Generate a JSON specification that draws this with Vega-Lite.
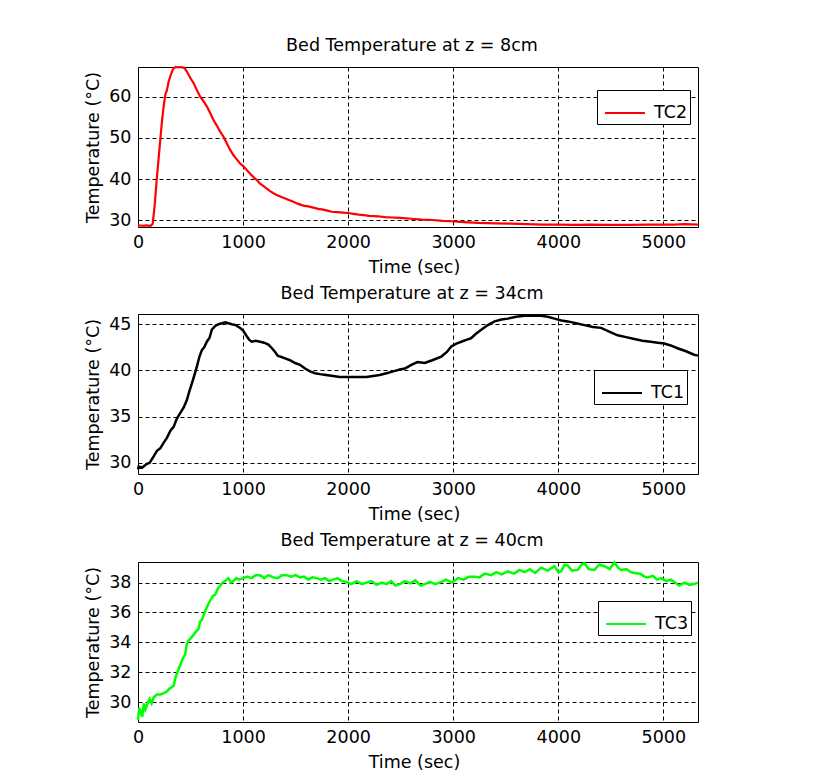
{
  "$schema": "https://vega.github.io/schema/vega-lite/v6.json",
  "padding": {"left": 84, "top": 36, "right": 5, "bottom": 5},
  "background": "white",
  "config": {
    "font": "DejaVu Sans",
    "view": {"stroke": "black", "strokeWidth": 1},
    "axis": {
      "domain": false, "ticks": false, "grid": true,
      "gridColor": "black", "gridDash": [4, 3], "gridOpacity": 1, "gridWidth": 1,
      "labelFont": "DejaVu Sans", "labelFontSize": 17.5, "labelColor": "black",
      "titleFont": "DejaVu Sans", "titleFontSize": 17.5, "titleFontWeight": "normal", "titleColor": "black",
      "labelPadding": 7, "labelFlush": false
    },
    "axisX": {"titlePadding": 8, "titleX": 276, "labelPadding": 6},
    "axisY": {"titlePadding": 6},
    "title": {"font": "DejaVu Sans", "fontSize": 17.5, "fontWeight": "normal", "color": "black", "offset": 8, "frame": "group", "dx": -6},
    "legend": {
      "labelFont": "DejaVu Sans", "labelFontSize": 17.5, "labelColor": "black",
      "symbolType": "stroke", "symbolSize": 1600, "symbolStrokeWidth": 2,
      "strokeColor": "black", "fillColor": "white", "padding": 2, "symbolOffset": 5, "labelOffset": 8, "title": null
    }
  },
  "datasets": {
    "tc2": [
      {"t":0,"v":28.8,"sensor":"TC2"},{"t":40,"v":28.7,"sensor":"TC2"},{"t":80,"v":28.8,"sensor":"TC2"},{"t":120,"v":28.7,"sensor":"TC2"},
      {"t":140,"v":29.2,"sensor":"TC2"},{"t":160,"v":34,"sensor":"TC2"},{"t":180,"v":40.5,"sensor":"TC2"},{"t":196,"v":45,"sensor":"TC2"},
      {"t":212,"v":49.5,"sensor":"TC2"},{"t":228,"v":54,"sensor":"TC2"},{"t":244,"v":57.6,"sensor":"TC2"},{"t":260,"v":60.5,"sensor":"TC2"},
      {"t":275,"v":61.6,"sensor":"TC2"},{"t":290,"v":63.5,"sensor":"TC2"},{"t":307,"v":64.9,"sensor":"TC2"},{"t":325,"v":66.2,"sensor":"TC2"},
      {"t":339,"v":66.9,"sensor":"TC2"},{"t":360,"v":67.2,"sensor":"TC2"},{"t":380,"v":67.1,"sensor":"TC2"},{"t":400,"v":67.2,"sensor":"TC2"},
      {"t":420,"v":67.1,"sensor":"TC2"},{"t":440,"v":67.0,"sensor":"TC2"},{"t":465,"v":66.1,"sensor":"TC2"},{"t":497,"v":64.6,"sensor":"TC2"},
      {"t":529,"v":63.3,"sensor":"TC2"},{"t":560,"v":61.6,"sensor":"TC2"},{"t":592,"v":60.0,"sensor":"TC2"},{"t":624,"v":58.9,"sensor":"TC2"},
      {"t":656,"v":57.6,"sensor":"TC2"},{"t":688,"v":56.0,"sensor":"TC2"},{"t":719,"v":54.3,"sensor":"TC2"},{"t":750,"v":53.0,"sensor":"TC2"},
      {"t":782,"v":51.5,"sensor":"TC2"},{"t":814,"v":50.3,"sensor":"TC2"},{"t":845,"v":48.7,"sensor":"TC2"},{"t":877,"v":47.1,"sensor":"TC2"},
      {"t":909,"v":45.8,"sensor":"TC2"},{"t":940,"v":44.8,"sensor":"TC2"},{"t":972,"v":43.8,"sensor":"TC2"},{"t":1004,"v":43.1,"sensor":"TC2"},
      {"t":1035,"v":42.2,"sensor":"TC2"},{"t":1067,"v":41.3,"sensor":"TC2"},{"t":1099,"v":40.5,"sensor":"TC2"},{"t":1130,"v":39.8,"sensor":"TC2"},
      {"t":1162,"v":38.9,"sensor":"TC2"},{"t":1195,"v":38.3,"sensor":"TC2"},{"t":1225,"v":37.7,"sensor":"TC2"},{"t":1257,"v":37.1,"sensor":"TC2"},
      {"t":1289,"v":36.6,"sensor":"TC2"},{"t":1336,"v":36.0,"sensor":"TC2"},{"t":1384,"v":35.5,"sensor":"TC2"},{"t":1430,"v":35.0,"sensor":"TC2"},
      {"t":1479,"v":34.5,"sensor":"TC2"},{"t":1525,"v":34.0,"sensor":"TC2"},{"t":1574,"v":33.6,"sensor":"TC2"},{"t":1620,"v":33.4,"sensor":"TC2"},
      {"t":1669,"v":33.1,"sensor":"TC2"},{"t":1715,"v":32.8,"sensor":"TC2"},{"t":1764,"v":32.6,"sensor":"TC2"},{"t":1811,"v":32.3,"sensor":"TC2"},
      {"t":1843,"v":32.1,"sensor":"TC2"},{"t":1900,"v":32.0,"sensor":"TC2"},{"t":1950,"v":31.9,"sensor":"TC2"},{"t":2001,"v":31.8,"sensor":"TC2"},
      {"t":2050,"v":31.6,"sensor":"TC2"},{"t":2100,"v":31.4,"sensor":"TC2"},{"t":2150,"v":31.3,"sensor":"TC2"},{"t":2200,"v":31.1,"sensor":"TC2"},
      {"t":2286,"v":31.0,"sensor":"TC2"},{"t":2350,"v":30.8,"sensor":"TC2"},{"t":2420,"v":30.7,"sensor":"TC2"},{"t":2500,"v":30.6,"sensor":"TC2"},
      {"t":2603,"v":30.4,"sensor":"TC2"},{"t":2700,"v":30.2,"sensor":"TC2"},{"t":2800,"v":30.1,"sensor":"TC2"},{"t":2900,"v":29.9,"sensor":"TC2"},
      {"t":2982,"v":29.8,"sensor":"TC2"},{"t":3100,"v":29.6,"sensor":"TC2"},{"t":3236,"v":29.4,"sensor":"TC2"},{"t":3400,"v":29.3,"sensor":"TC2"},
      {"t":3552,"v":29.2,"sensor":"TC2"},{"t":3700,"v":29.1,"sensor":"TC2"},{"t":3850,"v":29.0,"sensor":"TC2"},{"t":3995,"v":29.0,"sensor":"TC2"},
      {"t":4150,"v":28.9,"sensor":"TC2"},{"t":4300,"v":29.0,"sensor":"TC2"},{"t":4500,"v":28.9,"sensor":"TC2"},{"t":4700,"v":28.9,"sensor":"TC2"},
      {"t":4850,"v":29.0,"sensor":"TC2"},{"t":4974,"v":29.0,"sensor":"TC2"},{"t":5100,"v":29.0,"sensor":"TC2"},{"t":5200,"v":29.1,"sensor":"TC2"},
      {"t":5329,"v":29.0,"sensor":"TC2"}
    ],
    "tc1": [
      {"t":0,"v":29.3,"sensor":"TC1"},{"t":7,"v":29.6,"sensor":"TC1"},{"t":40,"v":29.5,"sensor":"TC1"},{"t":85,"v":29.9,"sensor":"TC1"},
      {"t":110,"v":30.0,"sensor":"TC1"},{"t":149,"v":30.7,"sensor":"TC1"},{"t":180,"v":31.3,"sensor":"TC1"},{"t":213,"v":31.6,"sensor":"TC1"},
      {"t":245,"v":32.2,"sensor":"TC1"},{"t":275,"v":32.7,"sensor":"TC1"},{"t":310,"v":33.5,"sensor":"TC1"},{"t":339,"v":33.9,"sensor":"TC1"},
      {"t":370,"v":34.8,"sensor":"TC1"},{"t":403,"v":35.4,"sensor":"TC1"},{"t":435,"v":36.0,"sensor":"TC1"},{"t":465,"v":36.8,"sensor":"TC1"},
      {"t":490,"v":37.8,"sensor":"TC1"},{"t":513,"v":38.6,"sensor":"TC1"},{"t":537,"v":39.5,"sensor":"TC1"},{"t":560,"v":40.4,"sensor":"TC1"},
      {"t":585,"v":41.5,"sensor":"TC1"},{"t":608,"v":42.2,"sensor":"TC1"},{"t":630,"v":42.5,"sensor":"TC1"},{"t":655,"v":43.1,"sensor":"TC1"},
      {"t":680,"v":43.5,"sensor":"TC1"},{"t":703,"v":44.4,"sensor":"TC1"},{"t":735,"v":44.8,"sensor":"TC1"},{"t":766,"v":45.0,"sensor":"TC1"},
      {"t":800,"v":45.1,"sensor":"TC1"},{"t":830,"v":45.2,"sensor":"TC1"},{"t":860,"v":45.1,"sensor":"TC1"},{"t":893,"v":45.0,"sensor":"TC1"},
      {"t":930,"v":44.9,"sensor":"TC1"},{"t":972,"v":44.6,"sensor":"TC1"},{"t":1000,"v":44.3,"sensor":"TC1"},{"t":1035,"v":43.7,"sensor":"TC1"},
      {"t":1060,"v":43.3,"sensor":"TC1"},{"t":1083,"v":43.1,"sensor":"TC1"},{"t":1120,"v":43.2,"sensor":"TC1"},{"t":1162,"v":43.1,"sensor":"TC1"},
      {"t":1200,"v":43.0,"sensor":"TC1"},{"t":1241,"v":42.8,"sensor":"TC1"},{"t":1275,"v":42.4,"sensor":"TC1"},{"t":1305,"v":42.0,"sensor":"TC1"},
      {"t":1330,"v":41.6,"sensor":"TC1"},{"t":1352,"v":41.5,"sensor":"TC1"},{"t":1400,"v":41.3,"sensor":"TC1"},{"t":1447,"v":41.1,"sensor":"TC1"},
      {"t":1495,"v":40.8,"sensor":"TC1"},{"t":1542,"v":40.6,"sensor":"TC1"},{"t":1590,"v":40.2,"sensor":"TC1"},{"t":1637,"v":39.9,"sensor":"TC1"},
      {"t":1685,"v":39.7,"sensor":"TC1"},{"t":1732,"v":39.6,"sensor":"TC1"},{"t":1790,"v":39.5,"sensor":"TC1"},{"t":1858,"v":39.4,"sensor":"TC1"},
      {"t":1920,"v":39.3,"sensor":"TC1"},{"t":1985,"v":39.3,"sensor":"TC1"},{"t":2050,"v":39.3,"sensor":"TC1"},{"t":2112,"v":39.3,"sensor":"TC1"},
      {"t":2175,"v":39.3,"sensor":"TC1"},{"t":2238,"v":39.4,"sensor":"TC1"},{"t":2300,"v":39.5,"sensor":"TC1"},{"t":2365,"v":39.7,"sensor":"TC1"},
      {"t":2430,"v":39.9,"sensor":"TC1"},{"t":2492,"v":40.1,"sensor":"TC1"},{"t":2540,"v":40.2,"sensor":"TC1"},{"t":2602,"v":40.6,"sensor":"TC1"},
      {"t":2660,"v":40.9,"sensor":"TC1"},{"t":2729,"v":40.8,"sensor":"TC1"},{"t":2800,"v":41.1,"sensor":"TC1"},{"t":2887,"v":41.5,"sensor":"TC1"},
      {"t":2940,"v":42.0,"sensor":"TC1"},{"t":2982,"v":42.6,"sensor":"TC1"},{"t":3030,"v":42.9,"sensor":"TC1"},{"t":3077,"v":43.1,"sensor":"TC1"},
      {"t":3125,"v":43.3,"sensor":"TC1"},{"t":3172,"v":43.5,"sensor":"TC1"},{"t":3220,"v":44.0,"sensor":"TC1"},{"t":3267,"v":44.4,"sensor":"TC1"},
      {"t":3330,"v":44.9,"sensor":"TC1"},{"t":3394,"v":45.3,"sensor":"TC1"},{"t":3460,"v":45.5,"sensor":"TC1"},{"t":3520,"v":45.6,"sensor":"TC1"},
      {"t":3600,"v":45.8,"sensor":"TC1"},{"t":3679,"v":45.9,"sensor":"TC1"},{"t":3760,"v":45.9,"sensor":"TC1"},{"t":3837,"v":45.9,"sensor":"TC1"},
      {"t":3900,"v":45.8,"sensor":"TC1"},{"t":3964,"v":45.6,"sensor":"TC1"},{"t":4030,"v":45.4,"sensor":"TC1"},{"t":4090,"v":45.3,"sensor":"TC1"},
      {"t":4170,"v":45.1,"sensor":"TC1"},{"t":4249,"v":44.9,"sensor":"TC1"},{"t":4330,"v":44.7,"sensor":"TC1"},{"t":4407,"v":44.6,"sensor":"TC1"},
      {"t":4485,"v":44.2,"sensor":"TC1"},{"t":4565,"v":43.8,"sensor":"TC1"},{"t":4645,"v":43.6,"sensor":"TC1"},{"t":4724,"v":43.4,"sensor":"TC1"},
      {"t":4800,"v":43.2,"sensor":"TC1"},{"t":4881,"v":43.1,"sensor":"TC1"},{"t":4945,"v":43.0,"sensor":"TC1"},{"t":5009,"v":42.9,"sensor":"TC1"},
      {"t":5070,"v":42.7,"sensor":"TC1"},{"t":5135,"v":42.4,"sensor":"TC1"},{"t":5210,"v":42.1,"sensor":"TC1"},{"t":5293,"v":41.7,"sensor":"TC1"},
      {"t":5329,"v":41.6,"sensor":"TC1"}
    ],
    "tc3": [
      {"t":0,"v":28.8,"sensor":"TC3"},{"t":12,"v":29.6,"sensor":"TC3"},{"t":23,"v":29.4,"sensor":"TC3"},{"t":40,"v":29.0,"sensor":"TC3"},
      {"t":55,"v":29.9,"sensor":"TC3"},{"t":70,"v":29.5,"sensor":"TC3"},{"t":85,"v":29.8,"sensor":"TC3"},{"t":110,"v":30.2,"sensor":"TC3"},
      {"t":130,"v":29.9,"sensor":"TC3"},{"t":149,"v":30.3,"sensor":"TC3"},{"t":180,"v":30.5,"sensor":"TC3"},{"t":213,"v":30.5,"sensor":"TC3"},
      {"t":245,"v":30.6,"sensor":"TC3"},{"t":275,"v":30.7,"sensor":"TC3"},{"t":300,"v":30.9,"sensor":"TC3"},{"t":323,"v":31.0,"sensor":"TC3"},
      {"t":340,"v":31.1,"sensor":"TC3"},{"t":355,"v":31.6,"sensor":"TC3"},{"t":380,"v":32.1,"sensor":"TC3"},{"t":403,"v":32.5,"sensor":"TC3"},
      {"t":425,"v":32.9,"sensor":"TC3"},{"t":450,"v":33.2,"sensor":"TC3"},{"t":465,"v":33.9,"sensor":"TC3"},{"t":481,"v":34.1,"sensor":"TC3"},
      {"t":505,"v":34.3,"sensor":"TC3"},{"t":529,"v":34.5,"sensor":"TC3"},{"t":550,"v":34.7,"sensor":"TC3"},{"t":576,"v":34.9,"sensor":"TC3"},
      {"t":592,"v":35.4,"sensor":"TC3"},{"t":608,"v":35.5,"sensor":"TC3"},{"t":625,"v":35.8,"sensor":"TC3"},{"t":640,"v":36.1,"sensor":"TC3"},
      {"t":665,"v":36.5,"sensor":"TC3"},{"t":688,"v":36.8,"sensor":"TC3"},{"t":712,"v":37.1,"sensor":"TC3"},{"t":735,"v":37.2,"sensor":"TC3"},
      {"t":760,"v":37.6,"sensor":"TC3"},{"t":783,"v":37.8,"sensor":"TC3"},{"t":805,"v":38.0,"sensor":"TC3"},{"t":830,"v":38.1,"sensor":"TC3"},
      {"t":860,"v":38.3,"sensor":"TC3"},{"t":885,"v":38.0,"sensor":"TC3"},{"t":909,"v":38.1,"sensor":"TC3"},{"t":935,"v":38.3,"sensor":"TC3"},
      {"t":960,"v":38.2,"sensor":"TC3"},{"t":1004,"v":38.3,"sensor":"TC3"},{"t":1040,"v":38.4,"sensor":"TC3"},{"t":1080,"v":38.3,"sensor":"TC3"},
      {"t":1120,"v":38.5,"sensor":"TC3"},{"t":1162,"v":38.5,"sensor":"TC3"},{"t":1200,"v":38.3,"sensor":"TC3"},{"t":1240,"v":38.5,"sensor":"TC3"},
      {"t":1289,"v":38.35,"sensor":"TC3"},{"t":1330,"v":38.3,"sensor":"TC3"},{"t":1370,"v":38.5,"sensor":"TC3"},{"t":1415,"v":38.5,"sensor":"TC3"},
      {"t":1460,"v":38.4,"sensor":"TC3"},{"t":1500,"v":38.5,"sensor":"TC3"},{"t":1542,"v":38.35,"sensor":"TC3"},{"t":1580,"v":38.4,"sensor":"TC3"},
      {"t":1620,"v":38.2,"sensor":"TC3"},{"t":1660,"v":38.35,"sensor":"TC3"},{"t":1700,"v":38.3,"sensor":"TC3"},{"t":1740,"v":38.2,"sensor":"TC3"},
      {"t":1780,"v":38.3,"sensor":"TC3"},{"t":1820,"v":38.1,"sensor":"TC3"},{"t":1858,"v":38.2,"sensor":"TC3"},{"t":1900,"v":38.3,"sensor":"TC3"},
      {"t":1940,"v":38.1,"sensor":"TC3"},{"t":1985,"v":38.05,"sensor":"TC3"},{"t":2030,"v":37.9,"sensor":"TC3"},{"t":2080,"v":38.1,"sensor":"TC3"},
      {"t":2130,"v":37.9,"sensor":"TC3"},{"t":2175,"v":38.0,"sensor":"TC3"},{"t":2220,"v":38.1,"sensor":"TC3"},{"t":2270,"v":37.85,"sensor":"TC3"},
      {"t":2320,"v":38.0,"sensor":"TC3"},{"t":2365,"v":37.9,"sensor":"TC3"},{"t":2410,"v":38.1,"sensor":"TC3"},{"t":2450,"v":37.8,"sensor":"TC3"},
      {"t":2492,"v":37.9,"sensor":"TC3"},{"t":2540,"v":38.1,"sensor":"TC3"},{"t":2590,"v":37.95,"sensor":"TC3"},{"t":2640,"v":38.15,"sensor":"TC3"},
      {"t":2690,"v":37.8,"sensor":"TC3"},{"t":2729,"v":37.9,"sensor":"TC3"},{"t":2780,"v":38.05,"sensor":"TC3"},{"t":2830,"v":37.9,"sensor":"TC3"},
      {"t":2887,"v":38.05,"sensor":"TC3"},{"t":2930,"v":38.2,"sensor":"TC3"},{"t":2990,"v":38.0,"sensor":"TC3"},{"t":3046,"v":38.3,"sensor":"TC3"},
      {"t":3100,"v":38.2,"sensor":"TC3"},{"t":3150,"v":38.4,"sensor":"TC3"},{"t":3204,"v":38.4,"sensor":"TC3"},{"t":3250,"v":38.35,"sensor":"TC3"},
      {"t":3300,"v":38.6,"sensor":"TC3"},{"t":3362,"v":38.5,"sensor":"TC3"},{"t":3410,"v":38.7,"sensor":"TC3"},{"t":3460,"v":38.55,"sensor":"TC3"},
      {"t":3520,"v":38.75,"sensor":"TC3"},{"t":3580,"v":38.6,"sensor":"TC3"},{"t":3630,"v":38.85,"sensor":"TC3"},{"t":3679,"v":38.7,"sensor":"TC3"},
      {"t":3730,"v":38.9,"sensor":"TC3"},{"t":3780,"v":38.65,"sensor":"TC3"},{"t":3837,"v":39.0,"sensor":"TC3"},{"t":3900,"v":38.8,"sensor":"TC3"},
      {"t":3964,"v":39.1,"sensor":"TC3"},{"t":4000,"v":38.7,"sensor":"TC3"},{"t":4027,"v":38.75,"sensor":"TC3"},{"t":4060,"v":39.2,"sensor":"TC3"},
      {"t":4090,"v":39.15,"sensor":"TC3"},{"t":4130,"v":38.8,"sensor":"TC3"},{"t":4185,"v":38.85,"sensor":"TC3"},{"t":4220,"v":39.2,"sensor":"TC3"},
      {"t":4249,"v":39.3,"sensor":"TC3"},{"t":4290,"v":38.9,"sensor":"TC3"},{"t":4344,"v":38.85,"sensor":"TC3"},{"t":4390,"v":39.2,"sensor":"TC3"},
      {"t":4439,"v":39.1,"sensor":"TC3"},{"t":4490,"v":38.9,"sensor":"TC3"},{"t":4534,"v":39.35,"sensor":"TC3"},{"t":4570,"v":39.0,"sensor":"TC3"},
      {"t":4597,"v":38.85,"sensor":"TC3"},{"t":4650,"v":38.9,"sensor":"TC3"},{"t":4690,"v":38.7,"sensor":"TC3"},{"t":4724,"v":38.65,"sensor":"TC3"},
      {"t":4780,"v":38.6,"sensor":"TC3"},{"t":4820,"v":38.4,"sensor":"TC3"},{"t":4850,"v":38.35,"sensor":"TC3"},{"t":4900,"v":38.45,"sensor":"TC3"},
      {"t":4940,"v":38.2,"sensor":"TC3"},{"t":4977,"v":38.3,"sensor":"TC3"},{"t":5030,"v":38.1,"sensor":"TC3"},{"t":5070,"v":38.2,"sensor":"TC3"},
      {"t":5103,"v":38.05,"sensor":"TC3"},{"t":5150,"v":37.8,"sensor":"TC3"},{"t":5200,"v":38.0,"sensor":"TC3"},{"t":5250,"v":37.85,"sensor":"TC3"},
      {"t":5293,"v":37.9,"sensor":"TC3"},{"t":5329,"v":38.0,"sensor":"TC3"}
    ]
  },
  "spacing": 7,
  "resolve": {"scale": {"color": "independent", "y": "independent", "x": "independent"}, "legend": {"color": "independent"}},
  "vconcat": [
    {
      "width": 560, "height": 160,
      "title": "Bed Temperature at z = 8cm",
      "data": {"name": "tc2"},
      "mark": {"type": "line", "strokeWidth": 2.2},
      "encoding": {
        "x": {"field": "t", "type": "quantitative", "scale": {"domain": [0, 5330], "nice": false, "zero": false},
              "axis": {"values": [0, 1000, 2000, 3000, 4000, 5000], "format": "d", "title": "Time (sec)"}},
        "y": {"field": "v", "type": "quantitative", "scale": {"domain": [28.4, 67.2], "nice": false, "zero": false},
              "axis": {"values": [30, 40, 50, 60], "format": "d", "title": "Temperature (°C)"}},
        "color": {"field": "sensor", "type": "nominal", "scale": {"domain": ["TC2"], "range": ["#ff0000"]},
                  "legend": {"orient": "none", "legendX": 459, "legendY": 23, "title": null}}
      }
    },
    {
      "width": 560, "height": 160,
      "title": "Bed Temperature at z = 34cm",
      "data": {"name": "tc1"},
      "mark": {"type": "line", "strokeWidth": 2.5},
      "encoding": {
        "x": {"field": "t", "type": "quantitative", "scale": {"domain": [0, 5330], "nice": false, "zero": false},
              "axis": {"values": [0, 1000, 2000, 3000, 4000, 5000], "format": "d", "title": "Time (sec)"}},
        "y": {"field": "v", "type": "quantitative", "scale": {"domain": [28.8, 46.1], "nice": false, "zero": false},
              "axis": {"values": [30, 35, 40, 45], "format": "d", "title": "Temperature (°C)"}},
        "color": {"field": "sensor", "type": "nominal", "scale": {"domain": ["TC1"], "range": ["#000000"]},
                  "legend": {"orient": "none", "legendX": 456, "legendY": 56, "title": null}}
      }
    },
    {
      "width": 560, "height": 160,
      "title": "Bed Temperature at z = 40cm",
      "data": {"name": "tc3"},
      "mark": {"type": "line", "strokeWidth": 2.5},
      "encoding": {
        "x": {"field": "t", "type": "quantitative", "scale": {"domain": [0, 5330], "nice": false, "zero": false},
              "axis": {"values": [0, 1000, 2000, 3000, 4000, 5000], "format": "d", "title": "Time (sec)"}},
        "y": {"field": "v", "type": "quantitative", "scale": {"domain": [28.66, 39.38], "nice": false, "zero": false},
              "axis": {"values": [30, 32, 34, 36, 38], "format": "d", "title": "Temperature (°C)"}},
        "color": {"field": "sensor", "type": "nominal", "scale": {"domain": ["TC3"], "range": ["#00ff00"]},
                  "legend": {"orient": "none", "legendX": 460, "legendY": 39, "title": null}}
      }
    }
  ]
}
